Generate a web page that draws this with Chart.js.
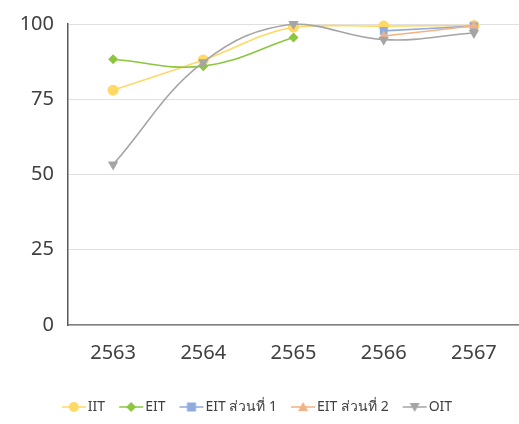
<!DOCTYPE html>
<html><head><meta charset="utf-8">
<script src="https://cdn.jsdelivr.net/npm/chart.js@4/dist/chart.umd.min.js"></script>
<style>html,body{margin:0;padding:0;background:#fff;overflow:hidden}canvas{display:block}</style>
</head><body><canvas id="c" width="519" height="424"></canvas>
<script>
const categories = ['2563','2564','2565','2566','2567'];
const iit = [78, 88, 99, 99.3, 99.5];
const eit = [88.3, 86, 95.5, null, null];
const eitPart1 = [null, null, null, 97.7, 99.3];
const eitPart2 = [null, null, null, 96, 99.4];
const oit = [53.3, 87.3, 100, 94.8, 97];
const yTicks = [0, 25, 50, 75, 100];
const seriesNames = ['IIT', 'EIT', 'EIT ส่วนที่ 1', 'EIT ส่วนที่ 2', 'OIT'];

const colors = ['#FFD966', '#8CC63F', '#8FAADC', '#F4B183', '#A5A5A5'];
const styles = ['circle', 'rectRot', 'rect', 'triangle', 'triangle'];
const rotations = [0, 0, 0, 0, 180];
const radii = [5.5, 5, 5.5, 5.5, 6];

function legendIcon(color, idx) {
  const cv = document.createElement('canvas');
  cv.width = 26; cv.height = 12;
  const g = cv.getContext('2d');
  g.strokeStyle = color; g.lineWidth = 1.5;
  g.beginPath(); g.moveTo(1, 6); g.lineTo(25, 6); g.stroke();
  g.fillStyle = color;
  const cx = 13, cy = 6, r = 5;
  g.beginPath();
  if (idx === 0) { g.arc(cx, cy, r, 0, Math.PI * 2); }
  else if (idx === 1) { g.moveTo(cx, cy - r); g.lineTo(cx + r, cy); g.lineTo(cx, cy + r); g.lineTo(cx - r, cy); g.closePath(); }
  else if (idx === 2) { g.rect(cx - 4.5, cy - 4.5, 9, 9); }
  else if (idx === 3) { g.moveTo(cx, cy - 5); g.lineTo(cx + 5, cy + 4); g.lineTo(cx - 5, cy + 4); g.closePath(); }
  else { g.moveTo(cx - 5, cy - 4); g.lineTo(cx + 5, cy - 4); g.lineTo(cx, cy + 5); g.closePath(); }
  g.fill();
  return cv;
}

const dataArrays = [iit, eit, eitPart1, eitPart2, oit];
const datasets = dataArrays.map((d, i) => ({
  label: seriesNames[i],
  data: d,
  borderColor: colors[i],
  backgroundColor: colors[i],
  pointBackgroundColor: colors[i],
  pointBorderColor: colors[i],
  pointBorderWidth: 0,
  pointStyle: styles[i],
  pointRotation: rotations[i],
  pointRadius: radii[i],
  borderWidth: 1.6,
  tension: 0.4,
  spanGaps: false,
  clip: false,
  order: 5 - i
}));

const icons = colors.map((c, i) => legendIcon(c, i));

new Chart(document.getElementById('c'), {
  type: 'line',
  data: { labels: categories, datasets },
  options: {
    responsive: false, maintainAspectRatio: false, animation: false,
    layout: { autoPadding: false, padding: { top: 23, right: 0, left: 0, bottom: 0 } },
    plugins: {
      tooltip: { enabled: false },
      legend: {
        position: 'bottom',
        labels: {
          usePointStyle: true,
          boxWidth: 26, boxHeight: 12,
          padding: 19,
          color: '#404040',
          font: { family: "'Noto Sans', 'DejaVu Sans', sans-serif", size: 14 },
          generateLabels(chart) {
            return chart.data.datasets.map((ds, i) => ({
              text: ds.label, pointStyle: icons[i], fillStyle: colors[i], strokeStyle: colors[i],
              lineWidth: 0, hidden: false, datasetIndex: i, fontColor: '#404040'
            }));
          }
        }
      }
    },
    scales: {
      x: {
        offset: true,
        afterFit(ax) { ax.paddingRight = 0; ax.paddingLeft = 0; },
        grid: { display: false, drawTicks: false },
        border: { display: true, color: '#7f7f7f', width: 1.5 },
        ticks: { color: '#404040', padding: 16, font: { family: "'Noto Sans', sans-serif", size: 20 } }
      },
      y: {
        min: 0, max: 100,
        afterBuildTicks(ax) { ax.ticks = yTicks.map(v => ({ value: v })); },
        afterFit(ax) { ax.width = 68; },
        grid: { color: '#e0e0e0', drawTicks: false },
        border: { display: true, color: '#595959', width: 1.5 },
        ticks: { color: '#404040', padding: 14, font: { family: "'Noto Sans', sans-serif", size: 20, lineHeight: 1 } }
      }
    }
  }
});
</script></body></html>
